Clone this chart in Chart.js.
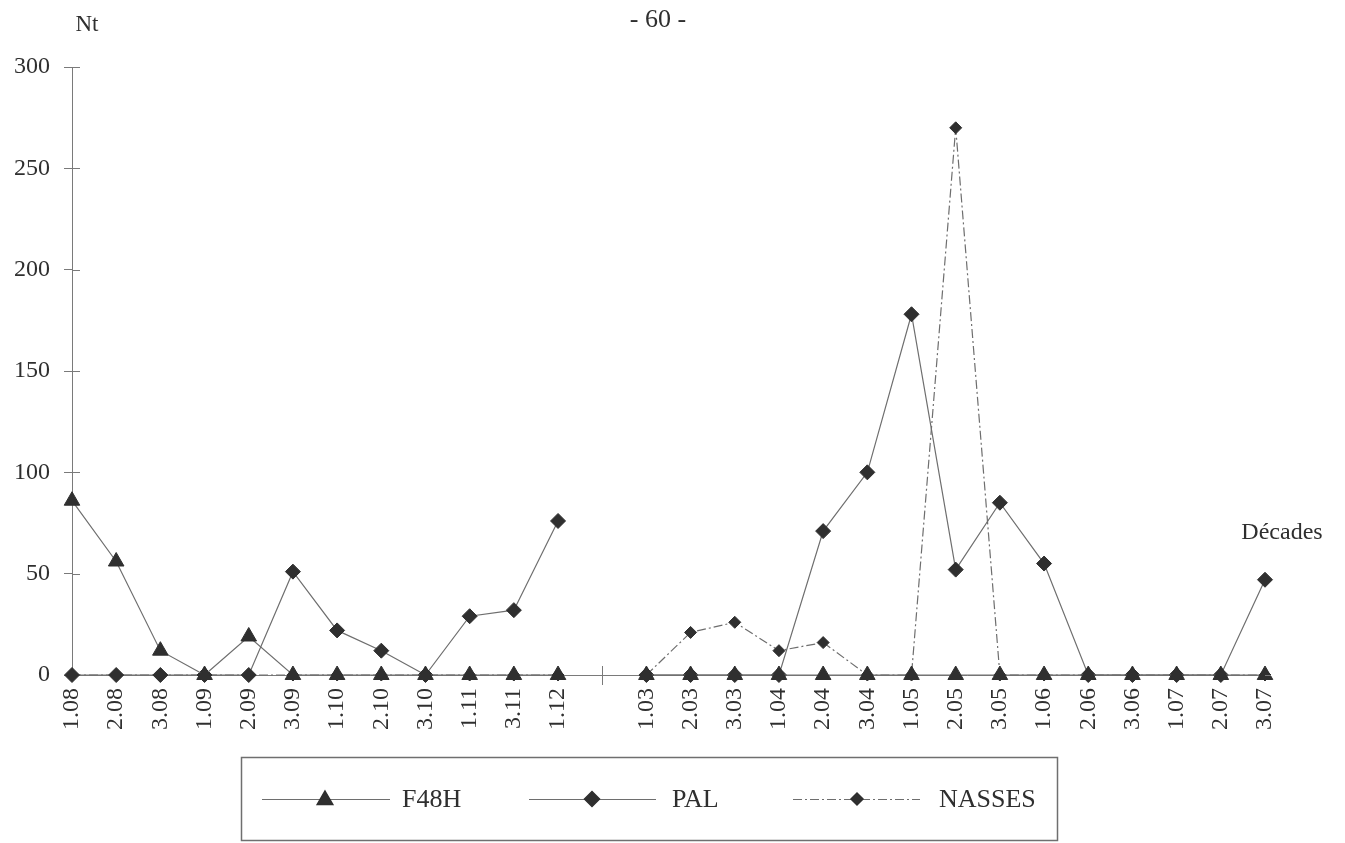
<!DOCTYPE html>
<html>
<head>
<meta charset="utf-8">
<title>Nt par décade</title>
<script src="https://cdn.jsdelivr.net/npm/chart.js@4.4.1/dist/chart.umd.min.js"></script>
<style>
  html, body { margin: 0; padding: 0; background: #ffffff; }
  #wrap { width: 1345px; height: 843px; position: relative; }
</style>
</head>
<body>
<div id="wrap"><canvas id="c"></canvas></div>
<script>
// Décades (the empty label separates the two campaigns)
const decades = ['1.08','2.08','3.08','1.09','2.09','3.09','1.10','2.10','3.10','1.11','3.11','1.12','',
                 '1.03','2.03','3.03','1.04','2.04','3.04','1.05','2.05','3.05','1.06','2.06','3.06','1.07','2.07','3.07'];

// Nt per gear type
const f48h   = [86, 56, 12, 0, 19, 0, 0, 0, 0, 0, 0, 0, null,
                0, 0, 0, 0, 0, 0, 0, 0, 0, 0, 0, 0, 0, 0, 0];
const pal    = [0, 0, 0, 0, 0, 51, 22, 12, 0, 29, 32, 76, null,
                0, 0, 0, 0, 71, 100, 178, 52, 85, 55, 0, 0, 0, 0, 47];
const nasses = [0, 0, 0, 0, 0, 0, 0, 0, 0, 0, 0, 0, null,
                0, 21, 26, 12, 16, 0, 0, 270, 0, 0, 0, 0, 0, 0, 0];

const yTicks = [0, 50, 100, 150, 200, 250, 300];

const SERIF = '"Liberation Serif", "Times New Roman", serif';
const INK = '#2f2f2f';
const LINE = '#6e6e6e';
const AXIS = '#7a7a7a';

// Extra drawing: inner half of the axis ticks, the gap tick, titles and the framed legend
const decor = {
  id: 'decor',
  afterDatasetsDraw(chart) {
    const ctx = chart.ctx;
    const y = chart.scales.y, x = chart.scales.x;
    ctx.save();
    ctx.strokeStyle = AXIS;
    ctx.lineWidth = 1;
    // inner half of y ticks
    y.ticks.forEach(t => {
      if (t.value === 0) return;
      const py = Math.round(y.getPixelForValue(t.value)) + 0.5;
      ctx.beginPath();
      ctx.moveTo(x.left, py);
      ctx.lineTo(x.left + 8, py);
      ctx.stroke();
    });
    // tick at the break between the two periods
    const gapIdx = decades.indexOf('');
    const gx = Math.round(x.getPixelForValue(gapIdx)) + 0.5;
    const y0 = y.getPixelForValue(0);
    ctx.beginPath();
    ctx.moveTo(gx, y0 - 9);
    ctx.lineTo(gx, y0 + 10);
    ctx.stroke();
    // short run of the axis past the last décade
    ctx.beginPath();
    ctx.moveTo(x.right, Math.round(y0) + 0.5);
    ctx.lineTo(x.right + 6, Math.round(y0) + 0.5);
    ctx.stroke();
    ctx.restore();
  },
  afterDraw(chart) {
    const ctx = chart.ctx;
    ctx.save();
    ctx.fillStyle = INK;
    ctx.textBaseline = 'middle';
    ctx.textAlign = 'center';
    ctx.font = '26px ' + SERIF;
    ctx.fillText('- 60 -', 658, 20);
    ctx.font = '23px ' + SERIF;
    ctx.fillText('Nt', 87, 25);
    ctx.font = '24px ' + SERIF;
    ctx.fillText('Décades', 1282, 533);

    // legend frame
    ctx.strokeStyle = '#6f6f6f';
    ctx.lineWidth = 1.5;
    ctx.strokeRect(241.5, 757.5, 816, 83);

    const items = [
      { lineFrom: 262, lineTo: 390, marker: 325, text: 402 },
      { lineFrom: 529, lineTo: 656, marker: 592, text: 672 },
      { lineFrom: 793, lineTo: 920, marker: 857, text: 939 }
    ];
    const ly = 799;
    chart.data.datasets.forEach((ds, i) => {
      const it = items[i];
      ctx.save();
      ctx.strokeStyle = ds.borderColor;
      ctx.lineWidth = ds.borderWidth;
      ctx.setLineDash(ds.borderDash || []);
      ctx.beginPath();
      ctx.moveTo(it.lineFrom, ly + 0.5);
      ctx.lineTo(it.lineTo, ly + 0.5);
      ctx.stroke();
      ctx.restore();
      ctx.save();
      ctx.fillStyle = ds.pointBackgroundColor;
      ctx.strokeStyle = ds.pointBorderColor;
      Chart.helpers.drawPoint(ctx, {
        pointStyle: ds.pointStyle,
        radius: ds.pointRadius,
        rotation: 0,
        borderWidth: 1
      }, it.marker, ly + (ds.pointStyle === 'triangle' ? 1 : 0));
      ctx.restore();
      ctx.fillStyle = INK;
      ctx.textAlign = 'left';
      ctx.textBaseline = 'middle';
      ctx.font = '26px ' + SERIF;
      ctx.fillText(ds.label, it.text, ly + 1);
    });
    ctx.restore();
  }
};

const common = {
  borderColor: LINE,
  borderWidth: 1.2,
  pointBackgroundColor: INK,
  pointBorderColor: INK,
  pointBorderWidth: 1,
  pointHoverRadius: 0,
  spanGaps: false,
  tension: 0,
  clip: false
};

new Chart(document.getElementById('c'), {
  type: 'line',
  data: {
    labels: decades,
    datasets: [
      Object.assign({}, common, { label: 'F48H',   data: f48h,   pointStyle: 'triangle', pointRadius: 9 }),
      Object.assign({}, common, { label: 'PAL',    data: pal,    pointStyle: 'rectRot',  pointRadius: 7.5 }),
      Object.assign({}, common, { label: 'NASSES', data: nasses, pointStyle: 'rectRot',  pointRadius: 6,
                                  borderDash: [9, 3, 2, 3] })
    ]
  },
  options: {
    responsive: true,
    maintainAspectRatio: false,
    animation: false,
    events: [],
    layout: { padding: { top: 67, right: 80, bottom: 0, left: 0 } },
    plugins: { legend: { display: false }, tooltip: { enabled: false } },
    scales: {
      x: {
        type: 'category',
        offset: false,
        grid: { display: true, drawOnChartArea: false, drawTicks: false, color: AXIS },
        border: { display: true, color: AXIS, width: 1, dash: [9, 3, 2, 3] },
        ticks: {
          autoSkip: false,
          maxRotation: 90,
          minRotation: 90,
          padding: 13,
          color: INK,
          font: { family: SERIF, size: 24 }
        },
        afterFit(scale) { scale.height = 168; }
      },
      y: {
        min: 0,
        max: 300,
        afterBuildTicks(scale) { scale.ticks = yTicks.map(v => ({ value: v })); },
        grid: { display: true, drawOnChartArea: false, drawTicks: true, tickLength: 8, color: AXIS },
        border: { display: true, color: AXIS, width: 1 },
        ticks: {
          padding: 14,
          color: INK,
          font: { family: SERIF, size: 24 }
        },
        afterFit(scale) { scale.width = 72; }
      }
    }
  },
  plugins: [decor]
});
</script>
</body>
</html>
